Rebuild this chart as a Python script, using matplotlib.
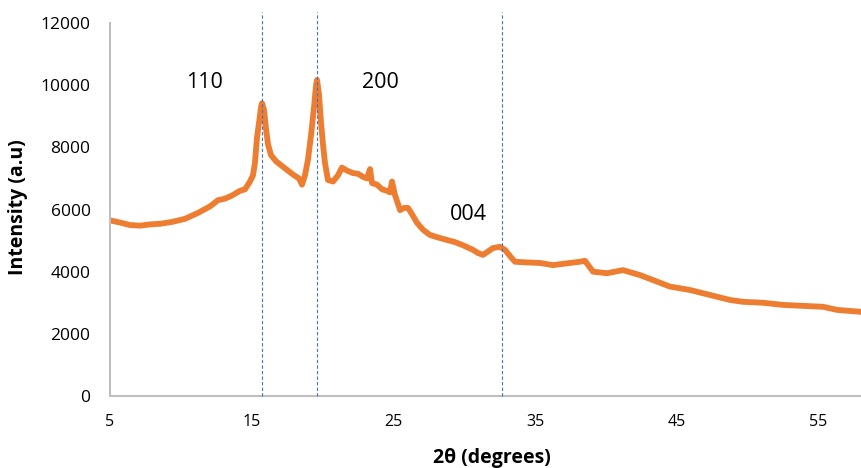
import numpy as np
import matplotlib
matplotlib.use("Agg")
import matplotlib.pyplot as plt

# XRD pattern
two_theta = [5.0, 5.71, 6.41, 7.12, 7.82, 8.53, 9.38, 10.29, 11.21, 12.06,
             12.62, 13.12, 13.61, 14.17, 14.53, 14.88, 15.09, 15.23, 15.37, 15.52,
             15.66, 15.73, 15.87, 16.01, 16.15, 16.36, 16.72, 17.14, 17.56, 17.99,
             18.34, 18.55, 18.76, 18.97, 19.19, 19.40, 19.54, 19.61, 19.75, 19.89,
             20.03, 20.17, 20.38, 20.74, 21.09, 21.37, 21.73, 22.15, 22.50, 22.85,
             23.14, 23.35, 23.49, 23.84, 24.20, 24.55, 24.76, 24.90, 25.11, 25.47,
             25.75, 26.03, 26.31, 26.67, 27.09, 27.58, 28.15, 28.78, 29.35, 29.91,
             30.62, 30.97, 31.32, 31.68, 32.03, 32.52, 32.88, 33.23, 33.58, 34.29,
             35.35, 36.26, 37.11, 38.17, 38.52, 39.09, 40.07, 41.20, 42.40, 43.32,
             44.52, 45.93, 47.34, 48.75, 49.67, 51.08, 52.50, 53.91, 55.32, 56.31,
             57.93]
intensity = [5650, 5580, 5500, 5480, 5520, 5540, 5600, 5700, 5890, 6100,
             6300, 6350, 6450, 6600, 6650, 6900, 7100, 7500, 8300, 8800,
             9300, 9420, 9200, 8600, 8100, 7750, 7550, 7400, 7250, 7100,
             7000, 6800, 7100, 7600, 8400, 9300, 10000, 10170, 9700, 8800,
             8100, 7500, 6950, 6900, 7100, 7350, 7250, 7170, 7150, 7050,
             7000, 7300, 6850, 6800, 6650, 6600, 6550, 6900, 6470, 5980,
             6050, 6050, 5850, 5570, 5350, 5180, 5100, 5020, 4950, 4850,
             4700, 4600, 4540, 4650, 4760, 4800, 4700, 4500, 4320, 4300,
             4280, 4210, 4260, 4320, 4350, 4000, 3950, 4050, 3890, 3730,
             3520, 3410, 3250, 3090, 3030, 3000, 2930, 2900, 2870, 2770,
             2710]

peak_pos = [15.73, 19.61, 32.67]
peak_labels = ["110", "200", "004"]
label_x = [11.7, 24.05, 30.27]
label_y = [10100, 10100, 5855]

x_ticks = [5, 15, 25, 35, 45, 55]
y_ticks = [0, 2000, 4000, 6000, 8000, 10000, 12000]

plt.rcParams['font.family'] = ['Open Sans', 'DejaVu Sans']

fig = plt.figure(figsize=(8.62, 4.68), dpi=100)
ax = fig.add_axes([110 / 862, 1 - 396 / 468, 752 / 862, 373 / 468])

ax.plot(two_theta, intensity, color='#ED7D31', lw=4.2, solid_joinstyle='round')

for xp in peak_pos:
    ax.plot([xp, xp], [0, 12350], color='#4472C4', lw=0.8, ls=(0, (3, 2)),
            clip_on=False, zorder=3)

for t, lx, ly in zip(peak_labels, label_x, label_y):
    ax.text(lx, ly, t, ha='center', va='center', fontsize=15.5, color='black')

ax.set_xlim(5, 58.07)
ax.set_ylim(0, 12000)
ax.set_xticks(x_ticks)
ax.set_yticks(y_ticks)
ax.set_xticklabels([str(v) for v in x_ticks], fontsize=11.5)
ax.set_yticklabels([str(v) for v in y_ticks], fontsize=12.5)
ax.tick_params(axis='both', length=0)
ax.tick_params(axis='x', pad=13)
ax.tick_params(axis='y', pad=14)

for s in ['top', 'right']:
    ax.spines[s].set_visible(False)
for s in ['left', 'bottom']:
    ax.spines[s].set_color('#BFBFBF')
    ax.spines[s].set_linewidth(1.5)

fig.text(492 / 862, 1 - 458 / 468, '2θ (degrees)', ha='center', va='center',
         fontsize=14, fontweight='bold')
fig.text(18 / 862, 1 - 207 / 468, 'Intensity (a.u)', ha='center', va='center',
         rotation=90, fontsize=14, fontweight='bold')

fig.savefig('out.png', dpi=100)
